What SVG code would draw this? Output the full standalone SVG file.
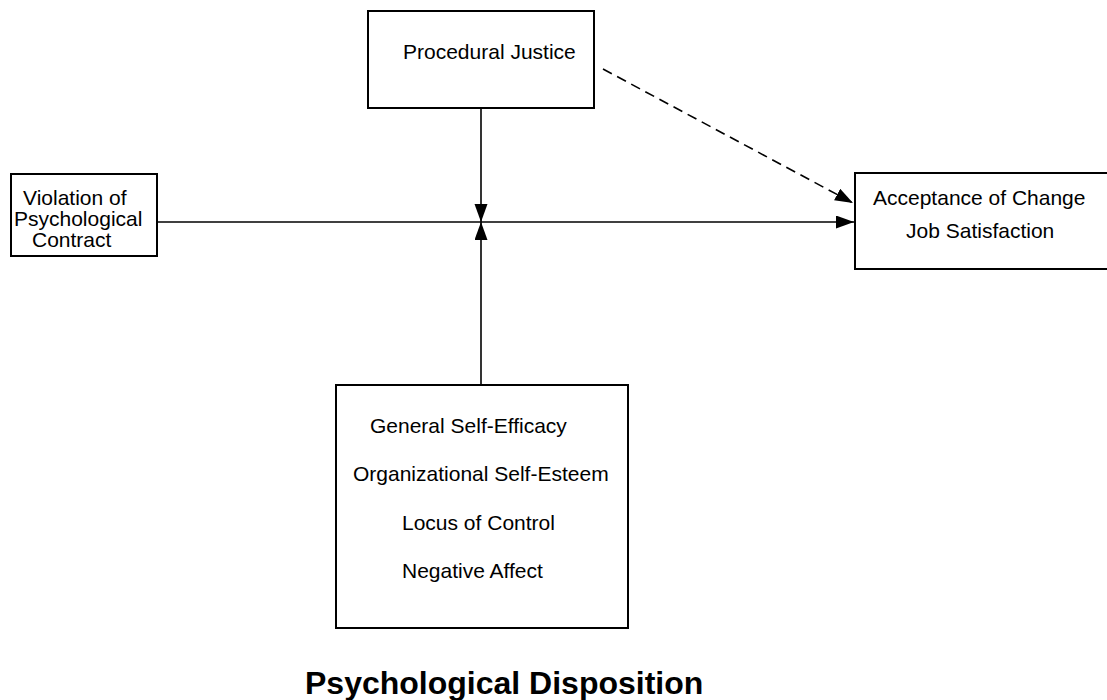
<svg xmlns="http://www.w3.org/2000/svg" width="1107" height="700" viewBox="0 0 1107 700">
<style>
.box{fill:#fff;stroke:#000;stroke-width:2}
.t{font-family:"Liberation Sans",Arial,sans-serif;font-size:21px;fill:#000}
.title{font-family:"Liberation Sans",Arial,sans-serif;font-size:32px;font-weight:bold;fill:#000}
.ln{stroke:#000;stroke-width:1.6;fill:none}
.dash{stroke-dasharray:10,6}
</style>
<defs>
<marker id="ah" markerUnits="userSpaceOnUse" markerWidth="19" markerHeight="14" refX="18" refY="6.5" orient="auto">
<path d="M0,0 L18,6.5 L0,13 z" fill="#000"/>
</marker>
</defs>
<rect width="1107" height="700" fill="#fff"/>
<g id="connectors">
<line class="ln" x1="157" y1="222" x2="854" y2="222" marker-end="url(#ah)"/>
<line class="ln" x1="481" y1="108" x2="481" y2="222" marker-end="url(#ah)"/>
<line class="ln" x1="481" y1="385" x2="481" y2="222" marker-end="url(#ah)"/>
<line class="ln dash" x1="603" y1="69" x2="853" y2="203" marker-end="url(#ah)"/>
</g>
<g id="node-violation">
<rect class="box" x="11" y="174" width="146" height="82"/>
<text class="t" x="23" y="205">Violation of</text>
<text class="t" x="14" y="226">Psychological</text>
<text class="t" x="32" y="247">Contract</text>
</g>
<g id="node-procedural">
<rect class="box" x="368" y="11" width="226" height="97"/>
<text class="t" x="403" y="59">Procedural Justice</text>
</g>
<g id="node-outcomes">
<rect class="box" x="855" y="173" width="262" height="96"/>
<text class="t" x="873" y="205">Acceptance of Change</text>
<text class="t" x="906" y="238">Job Satisfaction</text>
</g>
<g id="node-disposition">
<rect class="box" x="336" y="385" width="292" height="243"/>
<text class="t" x="370" y="433">General Self-Efficacy</text>
<text class="t" x="353" y="481">Organizational Self-Esteem</text>
<text class="t" x="402" y="530">Locus of Control</text>
<text class="t" x="402" y="578">Negative Affect</text>
</g>
<text id="title" class="title" x="305" y="694">Psychological Disposition</text>
</svg>
